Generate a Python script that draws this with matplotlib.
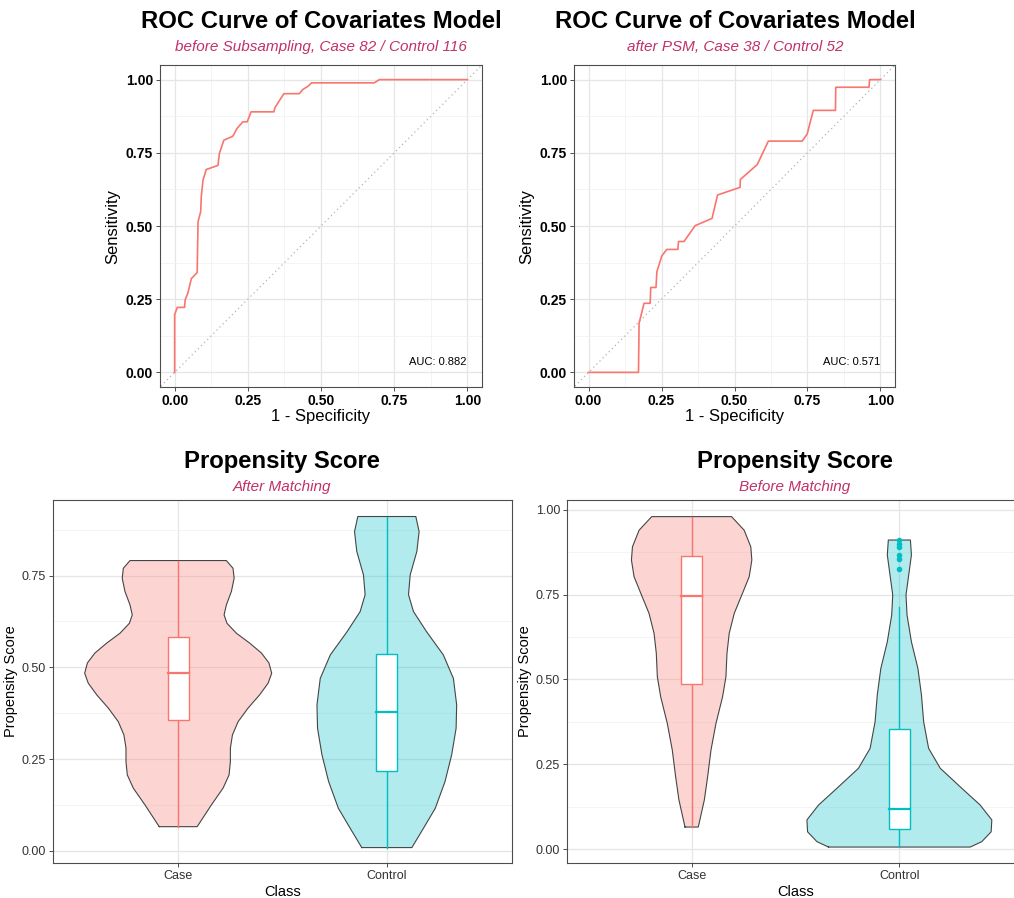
import numpy as np
import matplotlib
matplotlib.use("Agg")
import matplotlib.pyplot as plt
from matplotlib.ticker import MultipleLocator

plt.rcParams['font.family'] = ['Liberation Sans', 'DejaVu Sans']

# ==========================================
# Data
# ==========================================
roc_before_fpr = [0, 0, 0.009, 0.034, 0.036, 0.045, 0.057, 0.077, 0.080, 0.089, 0.091, 0.097,
                  0.108, 0.148, 0.153, 0.168, 0.199, 0.213, 0.233, 0.248, 0.261, 0.339, 0.343,
                  0.373, 0.426, 0.4375, 0.455, 0.468, 0.682, 0.699, 1.0]
roc_before_tpr = [0, 0.197, 0.222, 0.222, 0.248, 0.270, 0.320, 0.341, 0.515, 0.549, 0.600, 0.657,
                  0.693, 0.707, 0.748, 0.793, 0.807, 0.833, 0.856, 0.856, 0.890, 0.890, 0.905,
                  0.952, 0.952, 0.966, 0.977, 0.989, 0.989, 1.0, 1.0]
auc_before = 0.882

roc_after_fpr = [0, 0.171, 0.173, 0.190, 0.211, 0.213, 0.231, 0.234, 0.251, 0.268, 0.306, 0.308,
                 0.327, 0.365, 0.423, 0.442, 0.519, 0.520, 0.578, 0.616, 0.732, 0.749, 0.770,
                 0.846, 0.847, 0.961, 0.963, 1.0]
roc_after_tpr = [0, 0, 0.168, 0.236, 0.236, 0.290, 0.290, 0.344, 0.398, 0.420, 0.420, 0.447,
                 0.447, 0.501, 0.526, 0.606, 0.632, 0.659, 0.710, 0.790, 0.790, 0.814, 0.895,
                 0.895, 0.974, 0.974, 1.0, 1.0]
auc_after = 0.571

classes = ["Case", "Control"]

# violin profiles: score level and relative density (1.0 = widest violin)
am_case_y = [0.066, 0.125, 0.171, 0.207, 0.243, 0.280, 0.316, 0.352, 0.389, 0.425, 0.457, 0.484,
             0.512, 0.539, 0.566, 0.593, 0.620, 0.643, 0.670, 0.707, 0.743, 0.770, 0.791]
am_case_d = [0.202, 0.353, 0.478, 0.542, 0.556, 0.556, 0.578, 0.638, 0.744, 0.867, 0.958, 0.996,
             0.967, 0.887, 0.762, 0.620, 0.520, 0.489, 0.513, 0.567, 0.596, 0.584, 0.513]
am_ctrl_y = [0.009, 0.062, 0.116, 0.189, 0.262, 0.334, 0.398, 0.470, 0.534, 0.597, 0.652, 0.698,
             0.752, 0.816, 0.870, 0.911]
am_ctrl_d = [0.267, 0.391, 0.516, 0.620, 0.691, 0.738, 0.744, 0.709, 0.602, 0.424, 0.284, 0.231,
             0.249, 0.320, 0.344, 0.309]

bm_case_y = [0.065, 0.145, 0.213, 0.292, 0.370, 0.449, 0.508, 0.577, 0.636, 0.695, 0.754, 0.803,
             0.852, 0.891, 0.940, 0.980]
bm_case_d = [0.071, 0.136, 0.171, 0.207, 0.260, 0.331, 0.367, 0.378, 0.402, 0.456, 0.544, 0.616,
             0.644, 0.633, 0.562, 0.427]
bm_ctrl_y = [0.006, 0.022, 0.051, 0.086, 0.130, 0.179, 0.238, 0.297, 0.375, 0.455, 0.533, 0.611,
             0.690, 0.749, 0.808, 0.867, 0.911]
bm_ctrl_d = [0.758, 0.882, 0.982, 0.989, 0.864, 0.669, 0.438, 0.313, 0.260, 0.236, 0.198, 0.129,
             0.082, 0.071, 0.100, 0.129, 0.118]

# box stats: (whisker low, q1, median, q3, whisker high)
am_case_box = (0.065, 0.356, 0.485, 0.584, 0.791)
am_ctrl_box = (0.009, 0.217, 0.379, 0.536, 0.911)
bm_case_box = (0.065, 0.487, 0.745, 0.865, 0.980)
bm_ctrl_box = (0.006, 0.059, 0.119, 0.354, 0.713)
bm_ctrl_outliers = [0.912, 0.900, 0.890, 0.866, 0.854, 0.825]

# ==========================================
# Styling
# ==========================================
RED = "#F8766D"
CYAN = "#00BFC4"
SUB = "#C2306A"
W, H = 1014, 898

fig = plt.figure(figsize=(W / 100, H / 100), dpi=100)


def px_axes(l, t, r, b):
    return fig.add_axes([l / W, 1 - b / H, (r - l) / W, (b - t) / H])


def bw_theme(ax):
    ax.set_facecolor("white")
    for s in ax.spines.values():
        s.set_color("#4d4d4d")
        s.set_linewidth(0.8)
    ax.grid(True, which="major", color="#e6e6e6", lw=0.9, zorder=0)
    ax.grid(True, which="minor", color="#f2f2f2", lw=0.6, zorder=0)
    ax.set_axisbelow(True)
    ax.tick_params(which="major", length=3, width=0.7, color="#4d4d4d", pad=2)
    ax.tick_params(which="minor", length=0)


def fig_title(x, y, title, sub):
    fig.text(x / W, 1 - y / H, title, ha="center", va="center", fontsize=17.2, fontweight="bold")
    fig.text(x / W, 1 - (y + 25) / H, sub, ha="center", va="center", fontsize=11,
             style="italic", color=SUB)


def roc_panel(ax, fpr, tpr, auc):
    bw_theme(ax)
    ax.plot([-0.1, 1.1], [-0.1, 1.1], ls=(0, (1, 2.5)), color="#b3b3b3", lw=0.9, zorder=1)
    ax.plot(fpr, tpr, color=RED, lw=1.2, zorder=2)
    ax.set_xlim(-0.05, 1.05)
    ax.set_ylim(-0.05, 1.05)
    ax.xaxis.set_major_locator(MultipleLocator(0.25))
    ax.yaxis.set_major_locator(MultipleLocator(0.25))
    ax.xaxis.set_minor_locator(MultipleLocator(0.125))
    ax.yaxis.set_minor_locator(MultipleLocator(0.125))
    ax.xaxis.set_major_formatter(lambda v, p: f"{v:.2f}")
    ax.yaxis.set_major_formatter(lambda v, p: f"{v:.2f}")
    for lab in ax.get_xticklabels() + ax.get_yticklabels():
        lab.set_fontweight("bold")
        lab.set_fontsize(10)
    ax.set_xlabel("1 - Specificity", fontsize=12, labelpad=1)
    ax.set_ylabel("Sensitivity", fontsize=12, labelpad=4)
    ax.text(0.9, 0.035, f"AUC: {auc:.3f}", ha="center", va="center", fontsize=8)


def violin_panel(ax, profiles, boxes, outliers):
    bw_theme(ax)
    for i, ((yy, dd), box, col) in enumerate(zip(profiles, boxes, [RED, CYAN])):
        x0 = i + 1
        yy = np.array(yy)
        hw = np.array(dd) * 0.45
        ax.fill_betweenx(yy, x0 - hw, x0 + hw, facecolor=col, alpha=0.3, lw=0, zorder=2)
        xs = np.concatenate([x0 - hw, (x0 + hw)[::-1], [x0 - hw[0]]])
        ys = np.concatenate([yy, yy[::-1], [yy[0]]])
        ax.plot(xs, ys, color="#454545", lw=0.8, zorder=3, solid_joinstyle="round")
        lo, q1, med, q3, hi = box
        ax.plot([x0, x0], [lo, q1], color=col, lw=1.0, zorder=4)
        ax.plot([x0, x0], [q3, hi], color=col, lw=1.0, zorder=4)
        bw = 0.05
        ax.fill([x0 - bw, x0 + bw, x0 + bw, x0 - bw], [q1, q1, q3, q3], facecolor="white",
                edgecolor=col, lw=1.0, zorder=4)
        ax.plot([x0 - bw, x0 + bw], [med, med], color=col, lw=1.6, zorder=5)
    if outliers:
        ax.scatter([2] * len(outliers), outliers, s=9, color=CYAN, zorder=5)
    ax.set_xlim(0.4, 2.6)
    ax.set_xticks([1, 2])
    ax.set_xticklabels(classes)
    ax.yaxis.set_major_locator(MultipleLocator(0.25))
    ax.yaxis.set_minor_locator(MultipleLocator(0.125))
    ax.yaxis.set_major_formatter(lambda v, p: f"{v:.2f}")
    ax.tick_params(labelsize=9, labelcolor="#333333")
    ax.grid(False, axis="x", which="minor")
    ax.set_xlabel("Class", fontsize=10.5, labelpad=2)
    ax.set_ylabel("Propensity Score", fontsize=10.5, labelpad=3)


# ==========================================
# Panels
# ==========================================
ax1 = px_axes(160, 65, 482, 387)
roc_panel(ax1, roc_before_fpr, roc_before_tpr, auc_before)
fig_title(321, 22, "ROC Curve of Covariates Model", "before Subsampling, Case 82 / Control 116")

ax2 = px_axes(574, 65, 895, 387)
roc_panel(ax2, roc_after_fpr, roc_after_tpr, auc_after)
fig_title(735, 22, "ROC Curve of Covariates Model", "after PSM, Case 38 / Control 52")

ax3 = px_axes(53, 500, 512, 863)
violin_panel(ax3, [(am_case_y, am_case_d), (am_ctrl_y, am_ctrl_d)],
             [am_case_box, am_ctrl_box], None)
ax3.set_ylim(-0.033, 0.956)
fig_title(282, 462, "Propensity Score", "After Matching")

ax4 = px_axes(567, 500, 1024, 863)
violin_panel(ax4, [(bm_case_y, bm_case_d), (bm_ctrl_y, bm_ctrl_d)],
             [bm_case_box, bm_ctrl_box], bm_ctrl_outliers)
ax4.set_ylim(-0.041, 1.029)
fig_title(795, 462, "Propensity Score", "Before Matching")

plt.savefig("out.png", dpi=100)
